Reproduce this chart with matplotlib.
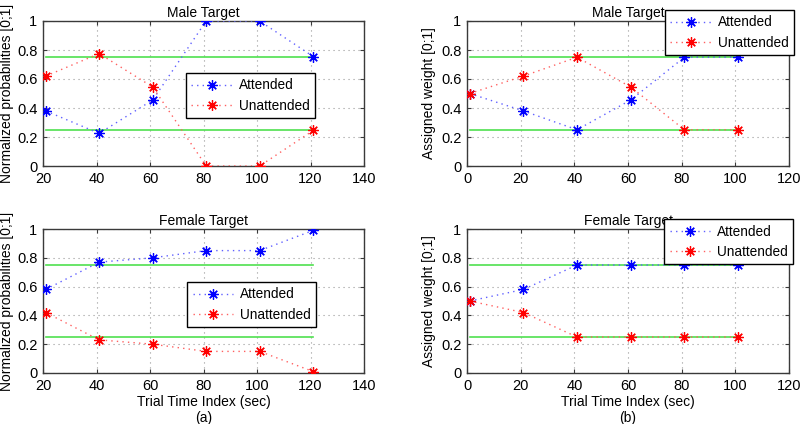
import matplotlib
matplotlib.use("Agg")
import matplotlib.pyplot as plt
import numpy as np

plt.rcParams['font.family'] = ['Liberation Sans', 'DejaVu Sans']
plt.rcParams['font.size'] = 10

# Data
x_prob = [21, 41, 61, 81, 101, 121]
x_weight = [1, 21, 41, 61, 81, 101]

male_prob_att = [0.38, 0.225, 0.455, 1.0, 1.0, 0.755]
male_prob_unatt = [0.62, 0.775, 0.545, 0.0, 0.0, 0.245]
female_prob_att = [0.58, 0.77, 0.80, 0.85, 0.85, 0.99]
female_prob_unatt = [0.42, 0.23, 0.20, 0.15, 0.15, 0.01]

male_w_att = [0.5, 0.38, 0.25, 0.455, 0.75, 0.75]
male_w_unatt = [0.5, 0.62, 0.75, 0.545, 0.25, 0.25]
female_w_att = [0.5, 0.58, 0.75, 0.75, 0.75, 0.75]
female_w_unatt = [0.5, 0.42, 0.25, 0.25, 0.25, 0.25]

thresholds = [0.75, 0.25]

titles = ["Male Target", "Female Target"]
legend_labels = ["Attended", "Unattended"]

W, H = 800, 424
fig = plt.figure(figsize=(8, 4.24), dpi=100)

def ax_at(x0, x1, y0, y1):
    return fig.add_axes([x0 / W, 1 - y1 / H, (x1 - x0) / W, (y1 - y0) / H])

GREEN = '#4fe04f'
EDGE = '#3a3a3a'
ASTERISK = (8, 2, 0)

def style(ax, xlim, xticks):
    ax.set_xlim(*xlim)
    ax.set_ylim(0, 1)
    ax.set_xticks(xticks)
    ax.set_yticks([0, 0.2, 0.4, 0.6, 0.8, 1])
    ax.set_yticklabels(['0', '0.2', '0.4', '0.6', '0.8', '1'])
    ax.grid(True, linestyle=(0, (1, 3.5)), color='#999999', linewidth=0.8)
    ax.tick_params(direction='in', length=3, colors=EDGE, labelcolor='black',
                   top=True, right=True, labelsize=10.5, pad=4)
    for s in ax.spines.values():
        s.set_color(EDGE)
        s.set_linewidth(1.0)

def draw(ax, x, att, unatt, legend_anchor):
    for t in thresholds:
        ax.plot([x[0], x[-1]], [t, t], color=GREEN, linewidth=1.2, zorder=2)
    l1, = ax.plot(x, att, linestyle=(0, (1, 3)), color='#6060ff', linewidth=1.0,
                  marker=ASTERISK, markersize=7.5, markeredgecolor='#0000ff',
                  markerfacecolor='#0000ff', markeredgewidth=0.9, zorder=3)
    l2, = ax.plot(x, unatt, linestyle=(0, (1, 3)), color='#ff6060', linewidth=1.0,
                  marker=ASTERISK, markersize=7.5, markeredgecolor='#ff0000',
                  markerfacecolor='#ff0000', markeredgewidth=0.9, zorder=3)
    leg = ax.legend([l1, l2], legend_labels, loc='upper left',
                    bbox_to_anchor=legend_anchor, fancybox=False,
                    edgecolor='black', framealpha=1, fontsize=9.8,
                    handlelength=3.0, borderpad=0.4, labelspacing=0.45,
                    handletextpad=0.5, borderaxespad=0)
    leg.get_frame().set_linewidth(1.0)
    leg.set_zorder(10)

# Left column
ax1 = ax_at(43, 364, 21, 166)
style(ax1, (20, 140), [20, 40, 60, 80, 100, 120, 140])
draw(ax1, x_prob, male_prob_att, male_prob_unatt, (0.445, 0.641))
ax1.set_title(titles[0], fontsize=10, pad=3)
ax1.set_ylabel("Normalized probabilities [0;1]", fontsize=10, labelpad=2)

ax2 = ax_at(43, 364, 229, 373)
style(ax2, (20, 140), [20, 40, 60, 80, 100, 120, 140])
draw(ax2, x_prob, female_prob_att, female_prob_unatt, (0.449, 0.632))
ax2.set_title(titles[1], fontsize=10, pad=3)
ax2.set_ylabel("Normalized probabilities [0;1]", fontsize=10, labelpad=2)
ax2.set_xlabel("Trial Time Index (sec)\n(a)", fontsize=10, labelpad=2, linespacing=1.15)

# Right column
ax3 = ax_at(467, 789, 21, 166)
style(ax3, (0, 120), [0, 20, 40, 60, 80, 100, 120])
draw(ax3, x_weight, male_w_att, male_w_unatt, (0.615, 1.076))
ax3.set_title(titles[0], fontsize=10, pad=3)
ax3.set_ylabel("Assigned weight [0;1]", fontsize=10, labelpad=4)

ax4 = ax_at(467, 789, 229, 373)
style(ax4, (0, 120), [0, 20, 40, 60, 80, 100, 120])
draw(ax4, x_weight, female_w_att, female_w_unatt, (0.612, 1.069))
ax4.set_title(titles[1], fontsize=10, pad=3)
ax4.set_ylabel("Assigned weight [0;1]", fontsize=10, labelpad=4)
ax4.set_xlabel("Trial Time Index (sec)\n(b)", fontsize=10, labelpad=2, linespacing=1.15)

fig.savefig("out.png", dpi=100)
